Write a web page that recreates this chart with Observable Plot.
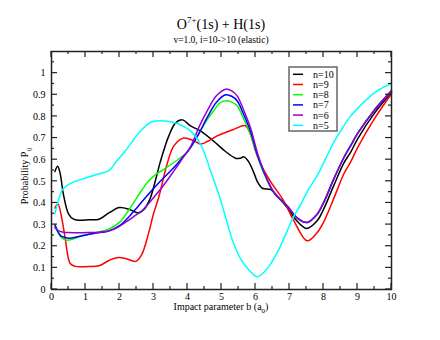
<!DOCTYPE html>
<html><head><meta charset="utf-8">
<script src="https://cdn.jsdelivr.net/npm/d3@7"></script>
<script src="https://cdn.jsdelivr.net/npm/@observablehq/plot@0.6"></script>
<style>body{margin:0;background:#fff;} #chart{width:440px;height:340px;} .serif{font-family:"Liberation Serif","DejaVu Serif",serif;}</style>
</head><body><div id="chart"></div>
<script>
const seriesNames = ["n=10","n=9","n=8","n=7","n=6","n=5"];
const seriesColors = ["#000000","#ff0000","#00ff00","#0000ff","#9400d3","#00ffff"];

const n10 = [[0.1,0.545],[0.18,0.57],[0.25,0.54],[0.35,0.44],[0.5,0.35],[0.65,0.325],[0.8,0.32],[1.1,0.322],[1.4,0.325],[1.7,0.355],[2.0,0.379],[2.3,0.37],[2.55,0.354],[2.72,0.37],[2.9,0.42],[3.05,0.5],[3.2,0.59],[3.45,0.71],[3.65,0.77],[3.85,0.784],[4.09,0.756],[4.38,0.733],[4.87,0.672],[5.1,0.64],[5.41,0.607],[5.55,0.607],[5.66,0.613],[5.8,0.59],[5.95,0.54],[6.05,0.50],[6.2,0.468],[6.45,0.462],[6.65,0.43],[6.93,0.379],[7.2,0.32],[7.5,0.282],[7.8,0.315],[8.0,0.37],[8.3,0.48],[8.6,0.585],[8.8,0.635],[9.0,0.695],[9.5,0.815],[10,0.91]];
const n9 = [[0.1,0.376],[0.19,0.395],[0.3,0.33],[0.4,0.24],[0.55,0.12],[0.7,0.107],[0.85,0.105],[1.1,0.106],[1.4,0.11],[1.7,0.135],[1.97,0.148],[2.2,0.142],[2.48,0.13],[2.65,0.16],[2.85,0.257],[3.0,0.35],[3.16,0.43],[3.4,0.58],[3.6,0.664],[3.89,0.70],[4.19,0.687],[4.38,0.672],[4.6,0.685],[4.87,0.71],[5.36,0.74],[5.7,0.757],[5.85,0.718],[6.0,0.64],[6.15,0.58],[6.44,0.50],[6.83,0.41],[7.13,0.317],[7.52,0.225],[7.8,0.26],[8.0,0.31],[8.3,0.42],[8.6,0.535],[8.8,0.59],[9.0,0.655],[9.5,0.79],[10,0.905]];
const n8 = [[0.1,0.294],[0.2,0.26],[0.3,0.238],[0.45,0.228],[0.6,0.232],[0.89,0.248],[1.3,0.263],[1.68,0.279],[2.0,0.31],[2.26,0.364],[2.45,0.41],[2.66,0.46],[2.85,0.5],[3.05,0.53],[3.3,0.555],[3.6,0.587],[3.8,0.61],[3.99,0.633],[4.2,0.685],[4.38,0.733],[4.58,0.785],[4.77,0.826],[4.95,0.862],[5.12,0.872],[5.3,0.866],[5.46,0.849],[5.65,0.79],[5.85,0.718],[6.05,0.62],[6.24,0.54],[6.54,0.448],[6.93,0.387],[7.23,0.33],[7.52,0.31],[7.8,0.345],[8.0,0.40],[8.3,0.51],[8.6,0.61],[8.8,0.665],[9.0,0.72],[9.5,0.83],[10,0.918]];
const n7 = [[0.1,0.30],[0.2,0.265],[0.3,0.245],[0.5,0.237],[0.8,0.245],[1.2,0.258],[1.68,0.27],[2.0,0.295],[2.26,0.333],[2.55,0.385],[2.85,0.44],[3.2,0.5],[3.6,0.564],[3.85,0.61],[4.09,0.656],[4.35,0.725],[4.58,0.795],[4.85,0.865],[5.12,0.90],[5.3,0.893],[5.46,0.872],[5.65,0.81],[5.85,0.733],[6.05,0.625],[6.24,0.545],[6.54,0.448],[6.93,0.387],[7.23,0.33],[7.52,0.31],[7.8,0.345],[8.0,0.40],[8.3,0.51],[8.6,0.61],[8.8,0.665],[9.0,0.72],[9.5,0.83],[10,0.918]];
const n6 = [[0.1,0.287],[0.2,0.272],[0.35,0.265],[0.5,0.263],[0.8,0.262],[1.09,0.263],[1.4,0.265],[1.68,0.27],[1.95,0.287],[2.17,0.31],[2.4,0.335],[2.66,0.364],[2.95,0.415],[3.24,0.47],[3.6,0.548],[3.85,0.605],[4.09,0.66],[4.35,0.755],[4.58,0.826],[4.85,0.895],[5.12,0.926],[5.3,0.918],[5.46,0.895],[5.65,0.83],[5.85,0.749],[6.05,0.635],[6.24,0.55],[6.54,0.45],[6.93,0.387],[7.23,0.33],[7.52,0.31],[7.8,0.345],[8.0,0.40],[8.3,0.51],[8.6,0.61],[8.8,0.665],[9.0,0.72],[9.5,0.83],[10,0.918]];
const n5 = [[0.1,0.35],[0.2,0.41],[0.3,0.456],[0.45,0.48],[0.6,0.494],[0.9,0.51],[1.19,0.525],[1.45,0.537],[1.68,0.548],[1.9,0.59],[2.17,0.64],[2.4,0.69],[2.62,0.733],[2.91,0.772],[3.2,0.78],[3.6,0.772],[3.85,0.757],[4.09,0.733],[4.38,0.672],[4.68,0.548],[4.97,0.415],[5.2,0.29],[5.36,0.21],[5.55,0.145],[5.75,0.10],[6.05,0.059],[6.25,0.08],[6.44,0.117],[6.7,0.19],[6.93,0.27],[7.1,0.33],[7.32,0.39],[7.55,0.46],[7.81,0.525],[8.05,0.6],[8.3,0.68],[8.55,0.745],[8.79,0.80],[9.05,0.845],[9.28,0.88],[9.6,0.92],[10,0.952]];

const xMajorTicks = [0,1,2,3,4,5,6,7,8,9,10];
const xMinorTicks = [0.5,1.5,2.5,3.5,4.5,5.5,6.5,7.5,8.5,9.5];
const yMajorTicks = [0,0.1,0.2,0.3,0.4,0.5,0.6,0.7,0.8,0.9,1.0];
const yMinorTicks = [0.05,0.15,0.25,0.35,0.45,0.55,0.65,0.75,0.85,0.95,1.05];
const yTickLabels = ["0","0.1","0.2","0.3","0.4","0.5","0.6","0.7","0.8","0.9","1"];

const allSeries = [n10,n9,n8,n7,n6,n5];
const rows = [];
allSeries.forEach((s,i) => s.forEach(([b,p]) => rows.push({series: seriesNames[i], b, p})));

const serif = "'Liberation Serif', 'DejaVu Serif', serif";
const plot = Plot.plot({
  width: 440, height: 340,
  marginLeft: 51, marginRight: 49, marginTop: 51, marginBottom: 51,
  style: {fontFamily: serif, fontSize: "10px", background: "white", color: "#000"},
  x: {domain: [0,10]},
  y: {domain: [0,1.1]},
  color: {domain: seriesNames, range: seriesColors},
  marks: [
    Plot.axisX({ticks: xMajorTicks, tickSize: 0, tickPadding: 3, tickFormat: d => String(d), label: null}),
    Plot.axisY({ticks: yMajorTicks, tickSize: 0, tickPadding: 6, tickFormat: d => yTickLabels[Math.round(d*10)], label: null}),
    Plot.line(rows, {x: "b", y: "p", z: "series", stroke: "series", strokeWidth: 1.5, curve: "catmull-rom"}),
    Plot.frame({stroke: "#222", strokeWidth: 1.5})
  ]
});
document.getElementById("chart").appendChild(plot);

const svg = d3.select(plot);
const xs = plot.scale("x"), ys = plot.scale("y");
const X0 = xs.apply(0), X1 = xs.apply(10), Y0 = ys.apply(0), Y1 = ys.apply(1.1);
const tg = svg.append("g").attr("stroke", "#222").attr("stroke-width", 1.2);
function xt(v, len){
  const x = xs.apply(v);
  tg.append("line").attr("x1", x).attr("x2", x).attr("y1", Y0).attr("y2", Y0 - len);
  tg.append("line").attr("x1", x).attr("x2", x).attr("y1", Y1).attr("y2", Y1 + len);
}
function yt(v, len){
  const y = ys.apply(v);
  tg.append("line").attr("y1", y).attr("y2", y).attr("x1", X0).attr("x2", X0 + len);
  tg.append("line").attr("y1", y).attr("y2", y).attr("x1", X1).attr("x2", X1 - len);
}
xMajorTicks.forEach(v => xt(v, 6));
xMinorTicks.forEach(v => xt(v, 3));
yMajorTicks.forEach(v => yt(v, 6));
yMinorTicks.forEach(v => yt(v, 3));

const tx = svg.append("g").attr("class", "serif").style("font-family", serif).attr("fill", "#000");
// Title
const title = tx.append("text").attr("x", 221).attr("y", 29).attr("text-anchor", "middle").style("font-size", "14px");
title.append("tspan").text("O");
title.append("tspan").attr("dy", -6).style("font-size", "9px").text("7+");
title.append("tspan").attr("dy", 6).text("(1s) + H(1s)");
tx.append("text").attr("x", 221).attr("y", 43).attr("text-anchor", "middle").style("font-size", "9.5px").text("v=1.0, i=10->10 (elastic)");
// X label
const xl = tx.append("text").attr("x", (X0 + X1)/2).attr("y", 310).attr("text-anchor", "middle").style("font-size", "10px");
xl.append("tspan").text("Impact parameter b (a");
xl.append("tspan").attr("dy", 3).style("font-size", "7px").text("0");
xl.append("tspan").attr("dy", -3).text(")");
// Y label
const yl = tx.append("text").attr("transform", "translate(28,176) rotate(-90)").attr("text-anchor", "middle").style("font-size", "10px");
yl.append("tspan").text("Probability P");
yl.append("tspan").attr("dy", 3).style("font-size", "7px").text("ij");

// Legend
const lg = svg.append("g").attr("class", "serif").style("font-family", serif);
lg.append("rect").attr("x", 289).attr("y", 67).attr("width", 48).attr("height", 64)
  .attr("fill", "white").attr("stroke", "#666").attr("stroke-width", 1.5);
seriesNames.forEach((name, i) => {
  const y = 74.3 + 10.2 * i;
  lg.append("line").attr("x1", 293).attr("x2", 303).attr("y1", y).attr("y2", y)
    .attr("stroke", seriesColors[i]).attr("stroke-width", 1.5);
  lg.append("text").attr("x", 313).attr("y", y + 3.5).attr("text-anchor", "start")
    .style("font-family", serif).style("font-size", "10px").attr("fill", "#000").text(name);
});
</script>
</body></html>
